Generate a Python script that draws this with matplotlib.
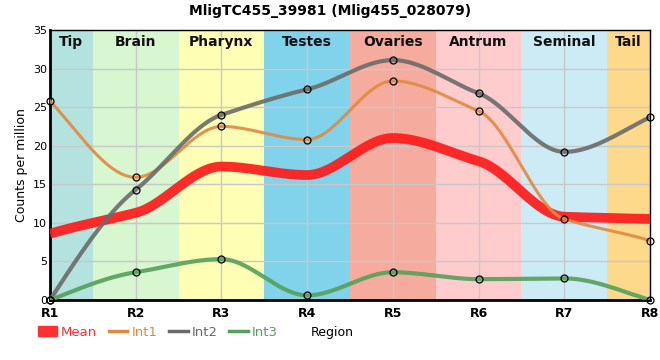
"""Line chart of counts per million along body regions, with shaded region bands."""
import numpy as np
import matplotlib
matplotlib.use("Agg")
import matplotlib.pyplot as plt
from matplotlib.patches import Patch
from matplotlib.lines import Line2D

positions = ["R1", "R2", "R3", "R4", "R5", "R6", "R7", "R8"]
mean_vals = [8.6, 11.3, 17.3, 16.2, 21.0, 18.0, 10.8, 10.5]
int1_vals = [25.8, 15.9, 22.5, 20.8, 28.4, 24.5, 10.5, 7.7]
int2_vals = [0.0, 14.3, 24.0, 27.3, 31.1, 26.8, 19.2, 23.7]
int3_vals = [0.0, 3.6, 5.3, 0.6, 3.6, 2.7, 2.8, 0.0]

regions = ["Tip", "Brain", "Pharynx", "Testes", "Ovaries", "Antrum", "Seminal", "Tail"]
region_colors = ["#b3e2df", "#d8f6d0", "#fefeb4", "#80d3eb",
                 "#f5ab9e", "#fecccd", "#cdebf5", "#fdd98b"]


def pchip(x, y, xs, tension=0.75):
    """Monotone cubic curve through the points, for drawing smooth lines."""
    x = np.asarray(x, float)
    y = np.asarray(y, float)
    h = np.diff(x)
    d = np.diff(y) / h
    m = np.zeros_like(y)
    for k in range(1, len(y) - 1):
        if d[k - 1] * d[k] > 0:
            w1 = 2 * h[k] + h[k - 1]
            w2 = h[k] + 2 * h[k - 1]
            m[k] = tension * (w1 + w2) / (w1 / d[k - 1] + w2 / d[k])
    m[0] = d[0] * 1.2
    m[-1] = d[-1] * 1.2
    idx = np.clip(np.searchsorted(x, xs) - 1, 0, len(h) - 1)
    t = (xs - x[idx]) / h[idx]
    h00 = 2 * t**3 - 3 * t**2 + 1
    h10 = t**3 - 2 * t**2 + t
    h01 = -2 * t**3 + 3 * t**2
    h11 = t**3 - t**2
    return (h00 * y[idx] + h10 * h[idx] * m[idx]
            + h01 * y[idx + 1] + h11 * h[idx] * m[idx + 1])


x = np.arange(1, len(positions) + 1)
xs = np.linspace(1, len(positions), 400)

fig = plt.figure(figsize=(6.6, 3.6), dpi=100)
ax = fig.add_axes([50 / 660, 60 / 360, 600 / 660, 270 / 360])

# background bands for each region
for i, (name, col) in enumerate(zip(regions, region_colors)):
    lo = max(1, i + 0.5)
    hi = min(len(positions), i + 1.5)
    ax.axvspan(lo, hi, color=col, lw=0, zorder=0)
    ax.text((lo + hi) / 2, 34.3, name, ha="center", va="top",
            fontsize=10, fontweight="bold", color="#111111", zorder=5)

ax.grid(True, color="#c8c8c8", lw=1, zorder=1)
ax.set_axisbelow(True)

ax.plot(xs, pchip(x, mean_vals, xs), color="#ff1a1a", lw=7, alpha=0.92,
        solid_capstyle="butt", zorder=3)
series = [(int1_vals, "#e0893f", 2.2), (int2_vals, "#6b6b6b", 3.0),
          (int3_vals, "#55a05a", 3.0)]
for vals, col, lw in series:
    ax.plot(xs, pchip(x, vals, xs), color=col, lw=lw, alpha=0.9, zorder=3)
    ax.plot(x, vals, "o", ms=5, mfc="none", mec="black", mew=0.9, zorder=4,
            clip_on=False)

ax.set_xlim(1, len(positions))
ax.set_ylim(0, 35)
ax.set_xticks(x)
ax.set_xticklabels(positions, fontsize=9, fontweight="bold")
ax.set_yticks(range(0, 36, 5))
ax.tick_params(axis="y", labelsize=8, length=0, pad=2)
ax.tick_params(axis="x", length=0, pad=5)
ax.set_ylabel("Counts per million", fontsize=9, labelpad=4)
ax.set_xlabel("Region", fontsize=9)
ax.xaxis.set_label_coords(0.47, -0.095)

for side in ["left", "bottom"]:
    ax.spines[side].set_linewidth(2)
for side in ["top", "right"]:
    ax.spines[side].set_linewidth(1)

fig.suptitle("MligTC455_39981 (Mlig455_028079)", fontsize=10,
             fontweight="bold", y=0.99)

handles = [Patch(color="#ff3030", label="Mean"),
           Line2D([], [], color="#e0893f", lw=2.5, label="Int1"),
           Line2D([], [], color="#6b6b6b", lw=2.5, label="Int2"),
           Line2D([], [], color="#55a05a", lw=2.5, label="Int3")]
leg = fig.legend(handles=handles, loc="center left", ncol=4,
                 bbox_to_anchor=(0.04, 1 - 332 / 360), frameon=False,
                 fontsize=9.5, handlelength=1.4, handletextpad=0.3,
                 columnspacing=0.9)
for txt, col in zip(leg.get_texts(), ["#ff3030", "#e0893f", "#6b6b6b", "#55a05a"]):
    txt.set_color(col)

fig.savefig("out.png", dpi=100)
